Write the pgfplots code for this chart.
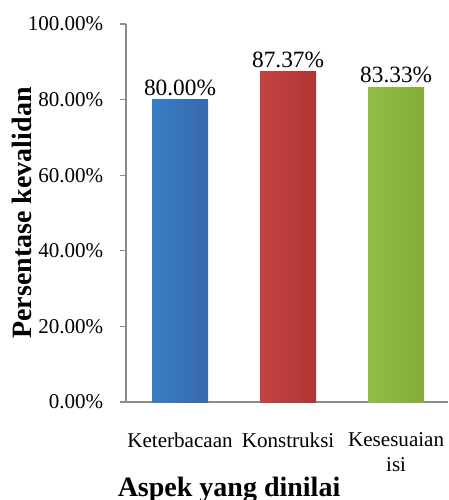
\documentclass[border=0pt]{standalone}
\usepackage{fontspec}
\setmainfont{Liberation Serif}
\usepackage{pgfplots}
\pgfplotsset{compat=1.18}

\definecolor{barblue}{HTML}{3D72BE}
\definecolor{barred}{HTML}{C0393A}
\definecolor{bargreen}{HTML}{8CB83C}
\definecolor{axisgray}{HTML}{8C8C8C}

\begin{document}
\begin{tikzpicture}
\begin{axis}[
  name=ax,
  scale only axis,
  width=241.5pt, height=283.5pt,
  xmin=-0.5, xmax=2.48,
  ymin=0, ymax=100,
  axis x line=bottom, axis y line=left,
  axis line style={axisgray, line width=0.9pt, -},
  xtick={0,1,2},
  xticklabels={Keterbacaan, Konstruksi, {Kesesuaian\\isi}},
  xtick style={draw=none},
  xticklabel style={font=\fontsize{15.8pt}{18.75pt}\selectfont, align=center, yshift=-15pt},
  ytick={0,20,40,60,80,100},
  ytick style={axisgray, line width=0.9pt},
  tick align=outside,
  major tick length=4.5pt,
  /pgf/number format/assume math mode=true,
  yticklabel={\pgfmathprintnumber[fixed,fixed zerofill,precision=2]{\tick}\%},
  yticklabel style={font=\fontsize{15.8pt}{18pt}\selectfont, xshift=-9pt},
  ylabel={\textbf{Persentase kevalidan}},
  ylabel style={font=\fontsize{21pt}{24pt}\selectfont, at={(axis description cs:0,0.5)}, anchor=center, yshift=78pt},
  xlabel={\textbf{Aspek yang dinilai}},
  xlabel style={font=\fontsize{21pt}{24pt}\selectfont, at={(axis description cs:0.32,0)}, anchor=base, yshift=-70.5pt},
  ybar, bar width=42pt, bar shift=0pt,
  nodes near coords={\pgfmathprintnumber[fixed,fixed zerofill,precision=2]{\pgfplotspointmeta}\%},
  nodes near coords style={font=\fontsize{17.5pt}{20pt}\selectfont, text=black, inner sep=1pt, yshift=2pt},
  clip=false,
]
\addplot[draw=none, left color=barblue!92!cyan, middle color=barblue, right color=barblue!92!black] coordinates {(0,80.00)};
\addplot[draw=none, left color=barred!95!white, middle color=barred, right color=barred!92!black] coordinates {(1,87.37)};
\addplot[draw=none, left color=bargreen!95!white, middle color=bargreen, right color=bargreen!94!black] coordinates {(2,83.33)};
\end{axis}
\pgfresetboundingbox
\useasboundingbox ([xshift=-94.5pt,yshift=-73.5pt]ax.south west) rectangle ([xshift=0.75pt,yshift=18pt]ax.north east);
\end{tikzpicture}
\end{document}
